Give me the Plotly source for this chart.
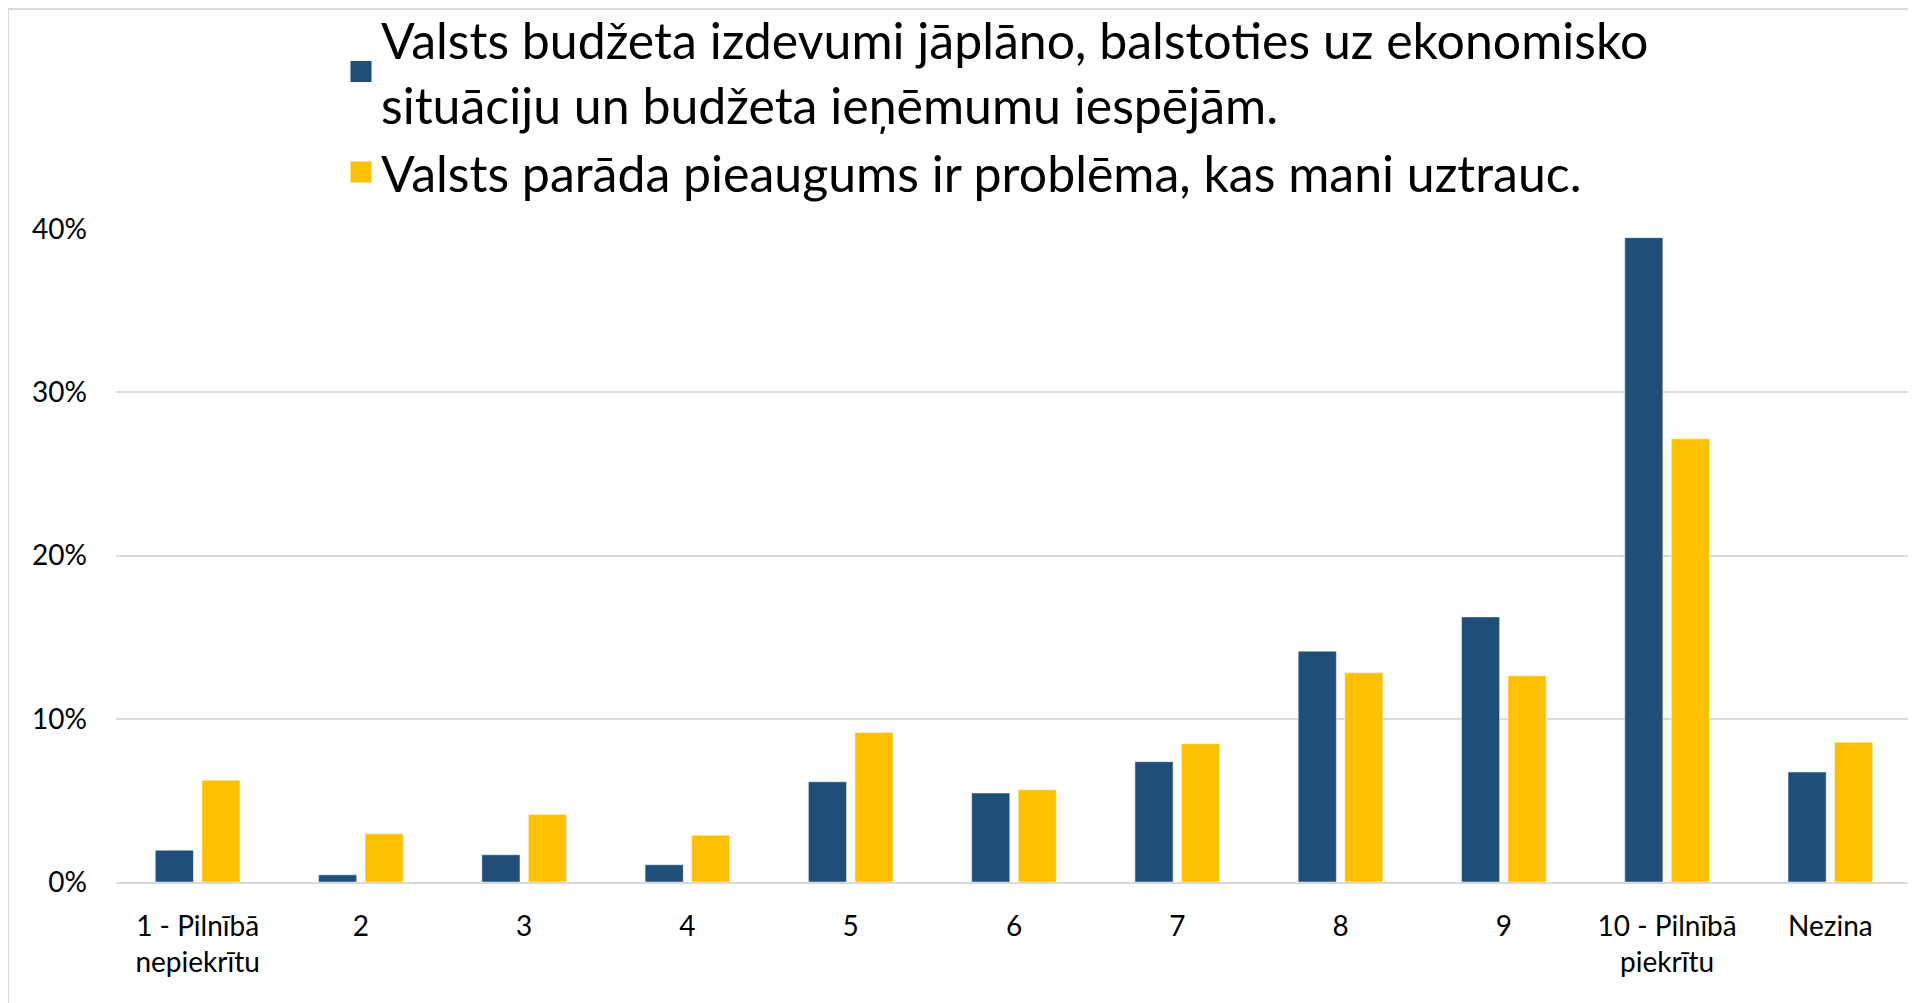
import plotly.graph_objects as go

categories = ["1 - Pilnībā<br>nepiekrītu", "2", "3", "4", "5", "6", "7", "8", "9",
              "10 - Pilnībā<br>piekrītu", "Nezina"]
series_names = [
    "Valsts budžeta izdevumi jāplāno, balstoties uz ekonomisko<br>situāciju un budžeta ieņēmumu iespējām.",
    "Valsts parāda pieaugums ir problēma, kas mani uztrauc.",
]
budzeta_izdevumi = [0.0195, 0.0044, 0.0167, 0.0106, 0.0614, 0.0545, 0.0737, 0.1414, 0.1624, 0.3947, 0.0674]
parada_pieaugums = [0.0624, 0.0295, 0.0414, 0.0286, 0.0916, 0.0565, 0.0847, 0.1282, 0.1263, 0.2715, 0.0856]
colors = ["#1F4E79", "#FFC000"]
y_ticks = [0, 0.1, 0.2, 0.3, 0.4]

W, H = 1916, 1003
ml, mr, mt, mb = 108, 12, 221, 129
pw, ph = W - ml - mr, H - mt - mb

fig = go.Figure()
for i, (name, vals, col) in enumerate(zip(series_names, [budzeta_izdevumi, parada_pieaugums], colors)):
    fig.add_trace(go.Bar(
        x=categories, y=vals, name=name, legendgroup=f"s{i}", showlegend=False,
        marker=dict(color=col, line=dict(color="white", width=0.5)),
        hovertemplate="%{y:.1%}<extra></extra>",
    ))
for i, (name, col) in enumerate(zip(series_names, colors)):
    fig.add_trace(go.Scatter(
        x=[None], y=[None], name=name, legendgroup=f"s{i}", mode="markers",
        marker=dict(symbol="square", size=16, color=col, line=dict(color=col, width=5)),
    ))

fig.update_layout(
    width=W, height=H,
    margin=dict(l=ml, r=mr, t=mt, b=mb, autoexpand=False),
    paper_bgcolor="white", plot_bgcolor="white",
    barmode="group", bargap=0.43, bargroupgap=0.18,
    font=dict(family="Lato, Carlito, Calibri, sans-serif", color="#000000"),
    legend=dict(
        xref="container", yref="paper",
        x=333 / W, y=1 + (mt + 8) / ph, xanchor="left", yanchor="top",
        font=dict(size=50, color="#000000"),
        bgcolor="rgba(0,0,0,0)",
        itemwidth=30,
        tracegroupgap=0,
    ),
    xaxis=dict(
        showgrid=False, showline=True, linecolor="#D9D9D9", linewidth=2,
        ticks="", tickfont=dict(size=28), ticklabelstandoff=18, tickangle=0,
    ),
    yaxis=dict(
        range=[0, 0.4], tickvals=y_ticks, tickformat=".0%",
        showgrid=True, gridcolor="#D9D9D9", gridwidth=1.5,
        zeroline=False, showline=False, ticks="",
        tickfont=dict(size=28), ticklabelstandoff=28,
    ),
    shapes=[dict(
        type="rect", xref="paper", yref="paper",
        x0=(0 - ml) / pw, x1=(W + 20 - ml) / pw,
        y0=-(mb + 20) / ph, y1=(H - 1 - mb) / ph,
        line=dict(color="#D9D9D9", width=2), fillcolor="rgba(0,0,0,0)", layer="below",
    )],
)

fig.write_html("out.html")
